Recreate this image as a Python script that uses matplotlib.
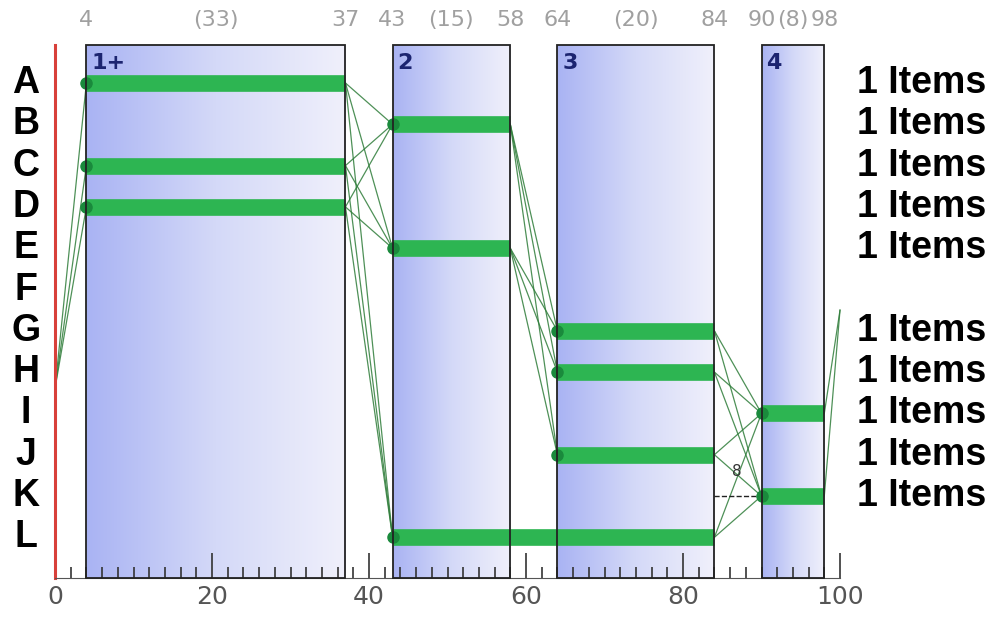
import numpy as np
import matplotlib
matplotlib.use("Agg")
import matplotlib.pyplot as plt
from matplotlib.colors import LinearSegmentedColormap
from matplotlib.patches import Rectangle

rows = list("ABCDEFGHIJKL")
block_start = [4, 43, 64, 90]
block_end = [37, 58, 84, 98]
block_names = ["1+", "2", "3", "4"]
block_len = [33, 15, 20, 8]

# bars: (row, start, end)
bar_rows = ["A", "C", "D", "B", "E", "L", "G", "H", "J", "I", "K"]
bar_start = [4, 4, 4, 43, 43, 43, 64, 64, 64, 90, 90]
bar_end = [37, 37, 37, 58, 58, 84, 84, 84, 84, 98, 98]

# transitions between blocks: (x from, rows from, x to, rows to)
origin_row = 7.4
trans = [
    (37, ["A", "C", "D"], 43, ["B", "E", "L"]),
    (58, ["B", "E"], 64, ["G", "H", "J"]),
    (84, ["G", "H", "J", "L"], 90, ["I", "K"]),
]
end_row = 5.5
item_rows = ["A", "B", "C", "D", "E", "G", "H", "I", "J", "K"]
item_text = "1 Items"

ri = {r: i for i, r in enumerate(rows)}
ytop, ybot = -0.92, 11.985

fig = plt.figure(figsize=(9.94, 6.18), dpi=100)
ax = fig.add_axes([55 / 994, 40 / 618, 785 / 994, 533 / 618])

cmap = LinearSegmentedColormap.from_list("blk", ["#a9b3f3", "#d4d9f8", "#f0f0fb"])
grad = np.linspace(0, 1, 256)[None, :]
for x0, x1, name in zip(block_start, block_end, block_names):
    ax.imshow(grad, cmap=cmap, extent=(x0, x1, ybot, ytop), aspect="auto", zorder=0)
    ax.add_patch(Rectangle((x0, ytop), x1 - x0, ybot - ytop, fill=False,
                           ec="#222222", lw=1.3, zorder=5, clip_on=False))
    ax.text(x0 + 0.6, -0.48, name, color="#1c2470", fontsize=16, fontweight="bold",
            ha="left", va="center", zorder=6)

lc = "#2f7d3a"
# from origin
for r in ["A", "C", "D"]:
    ax.plot([0, 4], [origin_row, ri[r]], color=lc, lw=0.9, alpha=0.85, zorder=2)
for xa, ra, xb, rb in trans:
    for a in ra:
        for b in rb:
            ax.plot([xa, xb], [ri[a], ri[b]], color=lc, lw=0.9, alpha=0.85, zorder=2)
ax.plot([84, 90], [ri["K"], ri["K"]], color="#222222", lw=1, ls="--", zorder=2)
ax.text(86.8, 9.4, "8", fontsize=11, color="#333333", ha="center", va="center", zorder=6)
for r in ["I", "K"]:
    ax.plot([98, 100], [ri[r], end_row], color=lc, lw=0.9, alpha=0.85, zorder=2, clip_on=False)

for r, s, e in zip(bar_rows, bar_start, bar_end):
    ax.plot([s, e], [ri[r], ri[r]], color="#2db552", lw=12, solid_capstyle="butt", zorder=3)
    ax.plot([s], [ri[r]], "o", color="#1a8a3c", ms=8, zorder=4)

# top labels
for x0, x1, n in zip(block_start, block_end, block_len):
    for x, t in [(x0, str(x0)), ((x0 + x1) / 2, f"({n})"), (x1, str(x1))]:
        ax.text(x, -1.52, t, color="#a0a0a0", fontsize=16, ha="center", va="center",
                clip_on=False)

for r in rows:
    ax.text(-3.7, ri[r], r, fontsize=27, fontweight="bold", ha="center", va="center",
            family="Liberation Sans", clip_on=False)
for r in item_rows:
    ax.text(102.2, ri[r], item_text, fontsize=27, fontweight="bold", ha="left",
            va="center", family="Liberation Sans", clip_on=False)

ax.set_xlim(0, 100)
ax.set_ylim(ybot, ytop)
ax.set_yticks([])
ax.set_xticks(range(0, 101, 20))
ax.set_xticks(range(0, 101, 2), minor=True)
ax.tick_params(axis="x", which="major", direction="in", length=18, width=1.2,
               color="#333333", labelsize=18, labelcolor="#555555", pad=5)
ax.tick_params(axis="x", which="minor", direction="in", length=8, width=1.2, color="#333333")
for s in ["top", "right"]:
    ax.spines[s].set_visible(False)
ax.spines["left"].set_color("#d8403a")
ax.spines["left"].set_linewidth(2.2)
ax.spines["bottom"].set_color("#555555")
ax.patch.set_alpha(0)

fig.savefig("out.png", dpi=100)
